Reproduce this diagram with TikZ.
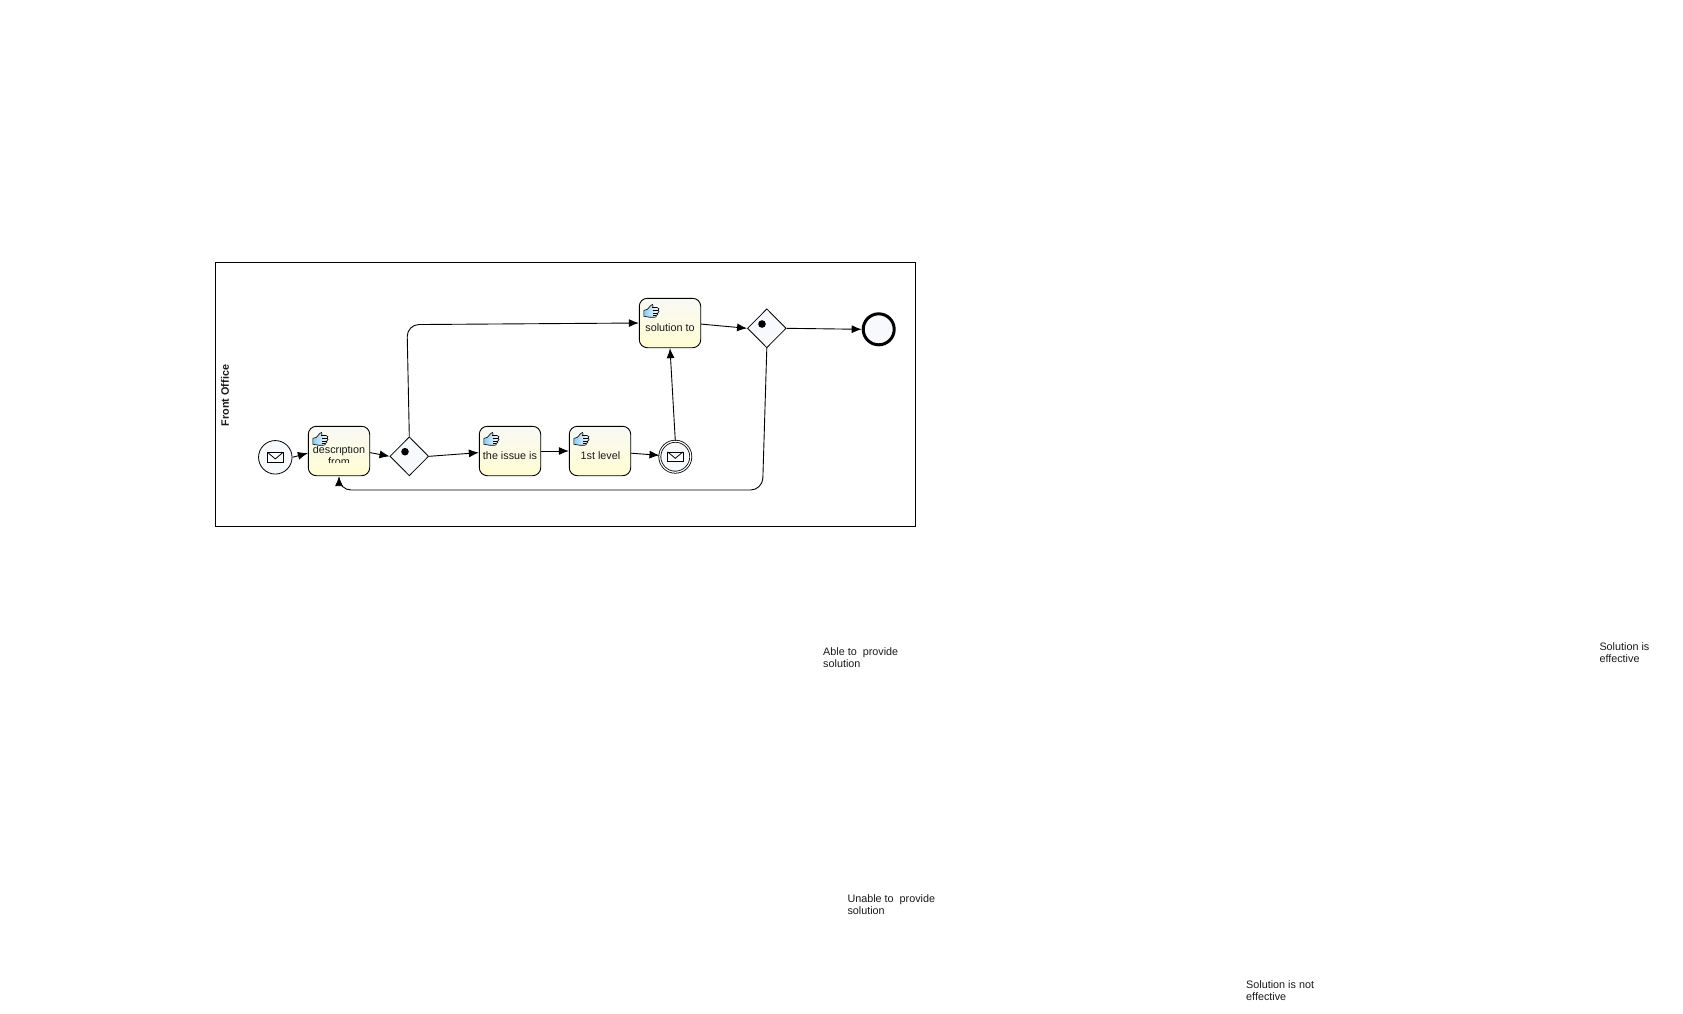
\documentclass[tikz,border=0pt]{standalone}
\usepackage{fontspec}
\setmainfont{Liberation Sans}
\usetikzlibrary{positioning, shapes.geometric, arrows.meta}
\definecolor{tasktop}{HTML}{F8F9F6}
\definecolor{taskbottom}{HTML}{FFFDD2}
\definecolor{eventfill}{HTML}{F7F9FD}
\definecolor{handblue}{HTML}{8CCBF5}
\tikzset{
  labeltext/.style={font=\fontsize{10.8}{12}\selectfont, inner sep=0pt, align=left, text=black!90},
  tasknode/.style={draw, rectangle, rounded corners=8pt, line width=.9pt, inner sep=0pt, minimum width=61.4pt, minimum height=49.4pt, top color=tasktop, bottom color=taskbottom},
  gatenode/.style={draw, diamond, line width=.8pt, inner sep=0pt, minimum width=38.7pt, minimum height=39pt, fill=eventfill},
  eventnode/.style={draw, circle, line width=.8pt, inner sep=0pt, minimum size=33.5pt, fill=eventfill},
  gatedot/.style={circle, fill=black, inner sep=0pt, minimum size=7.6pt},
  flow/.style={draw, line width=.9pt, -{Latex[length=10pt,width=8pt]}},
  handicon/.pic={
    \draw[line width=.6pt, left color=handblue, right color=white] (0,6.5) -- (3.5,5.5) -- (7,1.5) .. controls (8,.2) and (9.8,.4) .. (9.2,2) -- (8.6,3.6) -- (13,3.6) .. controls (15.4,3.8) and (15.6,5.6) .. (14.4,6.3) .. controls (15.6,7) and (15.4,8.6) .. (14,8.9) .. controls (14.6,10) and (14,11.4) .. (12.6,11.4) .. controls (12.8,12.8) and (12,13.4) .. (10.6,13.4) -- (6,13.4) .. controls (4,13.4) and (3,12.6) .. (0,12.4) -- cycle;
    \draw[line width=.5pt] (9.4,6.3) -- (14.4,6.3) (9.4,8.9) -- (14,8.9) (9.4,11.4) -- (12.6,11.4);
  },
  mailicon/.pic={
    \draw[line width=.8pt, fill=white] (-7.6,-4.8) rectangle (7.6,4.8);
    \draw[line width=.8pt] (-7.6,-4.8) -- (0,1.6) -- (7.6,-4.8);
  }
}
\begin{document}
\begin{tikzpicture}[x=1pt,y=-1pt]
  \useasboundingbox (0,0) rectangle (1683,1013);
  \node[draw, line width=.8pt, inner sep=0pt, minimum width=700pt, minimum height=263.3pt] (pool) at (565.3,394.4) {};
  \node[labeltext, font=\fontsize{10.8}{12}\selectfont\bfseries, rotate=90] (poolname) at (225,395.5) {Front Office};

  \node[eventnode] (received) at (275.3,457.3) {};
  \node[tasknode] (describe) at (339,451) {};
  \node[gatenode] (gateone) at (409.3,456.3) {};
  \node[gatedot] (dotone) at (405,451.7) {};
  \node[tasknode] (issue) at (510,451) {};
  \node[tasknode] (level) at (600,451) {};
  \node[eventnode, double, double distance=1.2pt, minimum size=31pt] (sent) at (675.3,456.7) {};
  \node[tasknode] (solution) at (670,323) {};
  \node[gatenode] (gatetwo) at (766.8,328.3) {};
  \node[gatedot] (dottwo) at (762,324) {};
  \node[draw, circle, line width=3pt, inner sep=0pt, minimum size=31pt, fill=eventfill] (finish) at (878.7,329.3) {};

  \pic at (received) {mailicon};
  \pic at (sent) {mailicon};
  \pic[shift={(5,6)}] at (describe.north west) {handicon};
  \pic[shift={(5,6)}] at (issue.north west) {handicon};
  \pic[shift={(5,6)}] at (level.north west) {handicon};
  \pic[shift={(5,6)}] at (solution.north west) {handicon};

  \begin{scope}
    \clip (308,446.7) rectangle (370,462.3);
    \node[labeltext, align=center] (describename) at (339,455.5) {description\\from};
  \end{scope}
  \node[labeltext] (issuename) at (510,456) {the issue is};
  \node[labeltext] (levelname) at (600.5,456) {1st level};
  \node[labeltext] (solutionname) at (670,327.8) {solution to};

  \coordinate (upturn) at (407,324.6);
  \coordinate (backturn) at (762.5,490);
  \coordinate (backend) at (339,490);
  \draw[flow] (received.east) -- (describe.184);
  \draw[flow] (describe.357) -- (gateone.west);
  \draw[flow] (gateone.east) -- (issue.183);
  \draw[flow] (issue.east) -- (level.west);
  \draw[flow] (level.356) -- (sent.175);
  \draw[flow] (sent.north) -- (solution.south);
  \draw[flow] (solution.358) -- (gatetwo.west);
  \draw[flow] (gatetwo.east) -- (finish.west);
  \draw[flow, rounded corners=12pt] (gateone.north) -- (upturn) -- (solution.west);
  \draw[flow, rounded corners=12pt] (gatetwo.south) -- (backturn) -- (backend) -- (describe.south);

  \node[labeltext, anchor=west] (ablename) at (823,657.3) {Able to\ \ provide\\solution};
  \node[labeltext, anchor=west] (unablename) at (847.3,905) {Unable to\ \ provide\\solution};
  \node[labeltext, anchor=west] (effectivename) at (1599.3,653) {Solution is\\effective};
  \node[labeltext, anchor=west] (noteffectivename) at (1246,991) {Solution is not\\effective};
\end{tikzpicture}
\end{document}
